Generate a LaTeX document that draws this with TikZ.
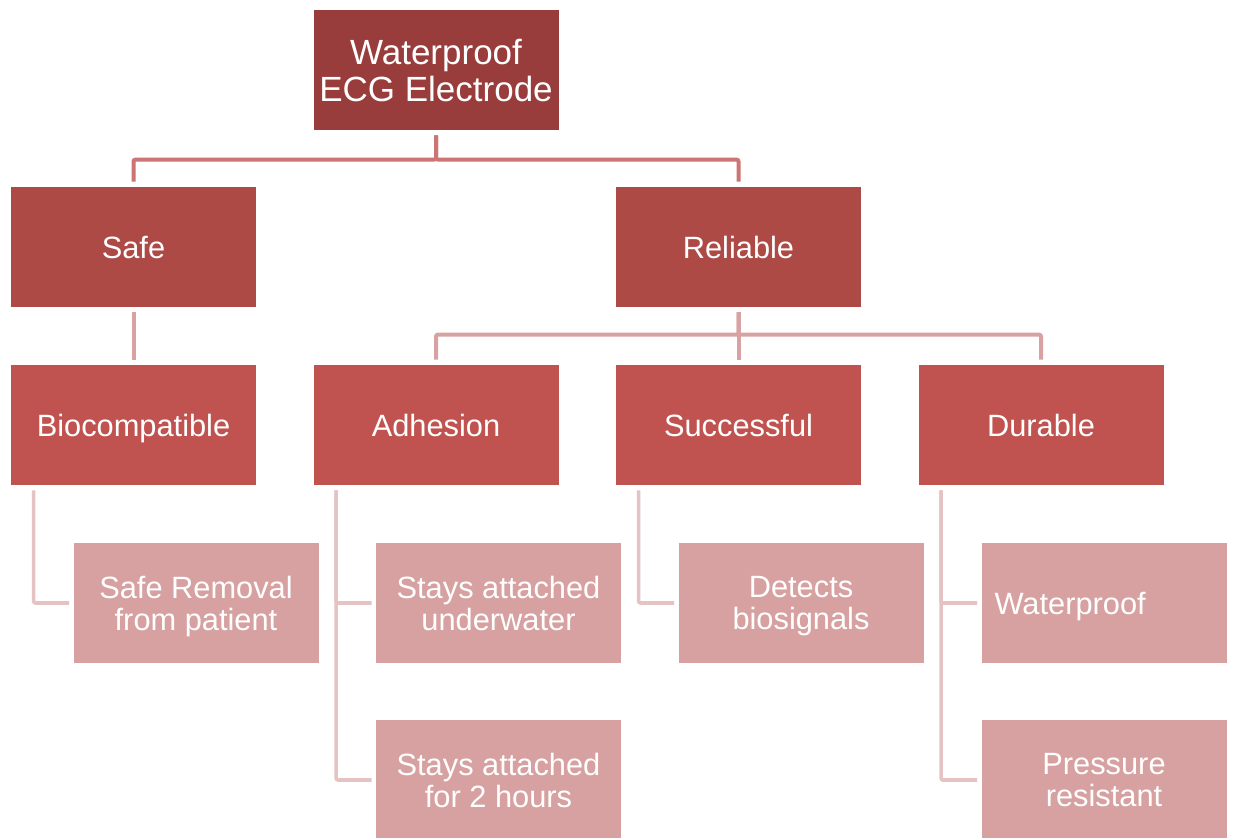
\documentclass[tikz,border=0pt]{standalone}
\usepackage{fontspec}
\setmainfont{Liberation Sans}
\usetikzlibrary{calc}
\definecolor{cTop}{HTML}{983C3C}
\definecolor{cLvA}{HTML}{AE4A46}
\definecolor{cLvB}{HTML}{C0534F}
\definecolor{cLvC}{HTML}{D7A1A1}
\definecolor{cConA}{HTML}{CD7474}
\definecolor{cConB}{HTML}{D9A2A2}
\definecolor{cConC}{HTML}{E6C3C3}
\tikzset{
  boxbase/.style={rectangle, inner sep=0pt, minimum width=122.5pt, minimum height=60pt,
    text=white, align=center, text depth=0pt, font=\fontsize{15.4pt}{16pt}\selectfont},
  topbox/.style={boxbase, fill=cTop, font=\fontsize{17.5pt}{18.5pt}\selectfont},
  lvabox/.style={boxbase, fill=cLvA},
  lvbbox/.style={boxbase, fill=cLvB},
  lvcbox/.style={boxbase, fill=cLvC},
  lvcleft/.style={lvcbox, align=left, text width=109.5pt, inner xsep=6.5pt},
  conA/.style={draw=cConA, line width=2pt, rounded corners=1pt},
  conB/.style={draw=cConB, line width=2pt, rounded corners=1pt},
  conC/.style={draw=cConC, line width=1.8pt, rounded corners=1pt},
}
\begin{document}
\begin{tikzpicture}[x=0.5pt, y=-0.5pt]
\useasboundingbox[fill=white] (0,0) rectangle (1234,837);
% nodes
\node[topbox] (top) at (436,70) {Waterproof\\ECG Electrode};
\node[lvabox] (safe) at (133.5,247) {Safe};
\node[lvabox] (rel) at (738.5,247) {Reliable};
\node[lvbbox] (bio) at (133.5,425) {Biocompatible};
\node[lvbbox] (adh) at (436,425) {Adhesion};
\node[lvbbox] (suc) at (738.5,425) {Successful};
\node[lvbbox] (dur) at (1041,425) {Durable};
\node[lvcbox] (rem) at (196,603) {Safe Removal\\from patient};
\node[lvcbox] (att) at (498.5,603) {Stays attached\\underwater};
\node[lvcbox] (hrs) at (498.5,780) {Stays attached\\for 2 hours};
\node[lvcbox] (det) at (801,603) {Detects\\biosignals};
\node[lvcleft] (wpf) at (1104,603) {Waterproof};
\node[lvcbox] (prs) at (1104,780) {Pressure\\resistant};
% level 1 connectors
\draw[conA] ($(top.south)+(0,5)$) |- ($(safe.north)+(0,-27)$) -- ($(safe.north)+(0,-5)$);
\draw[conA] ($(top.south)+(0,5)$) |- ($(rel.north)+(0,-27)$) -- ($(rel.north)+(0,-5)$);
% level 2 connectors
\draw[conB] ($(safe.south)+(0,5)$) -- ($(bio.north)+(0,-5)$);
\draw[conB] ($(rel.south)+(0,5)$) |- ($(adh.north)+(0,-30)$) -- ($(adh.north)+(0,-5)$);
\draw[conB] ($(rel.south)+(0,5)$) -- ($(suc.north)+(0,-5)$);
\draw[conB] ($(rel.south)+(0,5)$) |- ($(dur.north)+(0,-30)$) -- ($(dur.north)+(0,-5)$);
% level 3 connectors
\draw[conC] ($(bio.south west)+(23,5)$) |- ($(rem.west)+(-4,0)$);
\draw[conC] ($(adh.south west)+(23,5)$) |- ($(att.west)+(-4,0)$);
\draw[conC] ($(adh.south west)+(23,5)$) |- ($(hrs.west)+(-4,0)$);
\draw[conC] ($(suc.south west)+(23,5)$) |- ($(det.west)+(-4,0)$);
\draw[conC] ($(dur.south west)+(23,5)$) |- ($(wpf.west)+(-4,0)$);
\draw[conC] ($(dur.south west)+(23,5)$) |- ($(prs.west)+(-4,0)$);
\end{tikzpicture}
\end{document}
